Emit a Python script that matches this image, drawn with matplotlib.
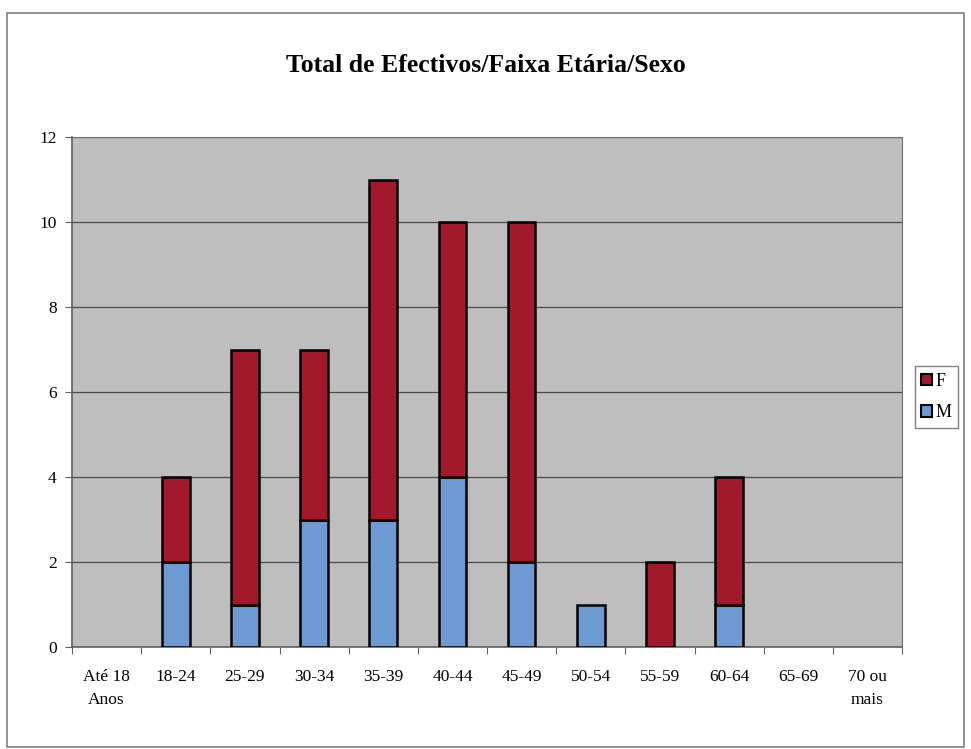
import matplotlib.pyplot as plt
from matplotlib.patches import Rectangle, Patch
import numpy as np

plt.rcParams['font.family'] = ['Liberation Serif', 'DejaVu Serif']

categorias = ['Até 18\nAnos', '18-24', '25-29', '30-34', '35-39', '40-44',
              '45-49', '50-54', '55-59', '60-64', '65-69', '70 ou\nmais']
masculino = [0, 2, 1, 3, 3, 4, 2, 1, 0, 1, 0, 0]
feminino = [0, 2, 6, 4, 8, 6, 8, 0, 2, 3, 0, 0]

cor_m = '#6E99D2'
cor_f = '#A3192C'

fig = plt.figure(figsize=(9.71, 7.49), dpi=100)
fig.patch.set_facecolor('white')

# moldura exterior do gráfico
fig.patches.append(Rectangle((0.007, 0.003), 0.986, 0.98, transform=fig.transFigure,
                             fill=False, edgecolor='#808080', linewidth=1.2))

ax = fig.add_axes([0.0741, 0.136, 0.855, 0.681])
ax.set_facecolor('#BEBEBE')

x = np.arange(len(categorias))
largura = 0.4
borda_m = ['black' if v > 0 else 'none' for v in masculino]
borda_f = ['black' if v > 0 else 'none' for v in feminino]
ax.bar(x, masculino, largura, color=cor_m, edgecolor=borda_m, linewidth=1.8, zorder=3)
ax.bar(x, feminino, largura, bottom=masculino, color=cor_f, edgecolor=borda_f,
       linewidth=1.8, zorder=3)

ax.set_xlim(-0.5, len(categorias) - 0.5)
ax.set_ylim(0, 12)
ax.set_yticks(range(0, 13, 2))
ax.yaxis.grid(True, color='#4A4A4A', linewidth=0.9, zorder=1)

ax.set_xticks(np.arange(-0.5, len(categorias), 1))
ax.set_xticklabels([])
ax.set_xticks(x, minor=True)
ax.set_xticklabels(categorias, minor=True, fontsize=12.5, linespacing=1.55)
ax.tick_params(axis='x', which='minor', length=0, pad=16)
ax.tick_params(axis='x', which='major', length=5, color='#606060')
ax.tick_params(axis='y', length=5, color='#606060', labelsize=12.5, pad=6)

for lado in ['top', 'right']:
    ax.spines[lado].set_color('#707070')
for lado in ['left', 'bottom']:
    ax.spines[lado].set_color('#606060')
    ax.spines[lado].set_linewidth(1.2)

fig.text(0.5, 0.913, 'Total de Efectivos/Faixa Etária/Sexo', ha='center', va='center',
         fontsize=18.5, fontweight='bold')

handles = [Patch(facecolor=cor_f, edgecolor='black', linewidth=1.5, label='F'),
           Patch(facecolor=cor_m, edgecolor='black', linewidth=1.5, label='M')]
leg = fig.legend(handles=handles, loc='center left',
                 bbox_to_anchor=(0.942, 0.47), frameon=True, fancybox=False,
                 edgecolor='#606060', fontsize=13, handlelength=0.6, handleheight=0.6,
                 handletextpad=0.2, borderpad=0.35, labelspacing=0.8, borderaxespad=0)

fig.savefig('out.png', dpi=100)
